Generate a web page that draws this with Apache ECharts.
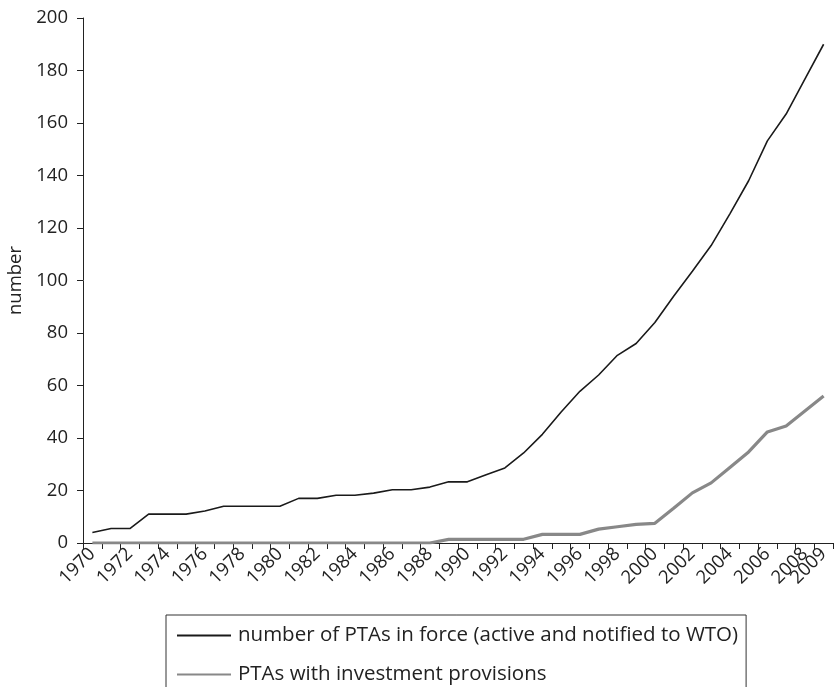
<!DOCTYPE html>
<html>
<head>
<meta charset="utf-8">
<script src="https://cdn.jsdelivr.net/npm/echarts@6/dist/echarts.min.js"></script>
<style>
html,body{margin:0;padding:0;background:#fff;}
#chart{width:834px;height:687px;}
</style>
</head>
<body>
<div id="chart"></div>
<script>
var years = [];
for (var y = 1970; y <= 2009; y++) years.push(String(y));

var ptasInForce = [4, 5.5, 5.5, 11, 11, 11, 12.2, 14, 14, 14, 14, 17, 17, 18.2, 18.2, 19, 20.3, 20.3, 21.3, 23.3,
  23.3, 26, 28.6, 34.3, 41.4, 49.9, 57.8, 64, 71.5, 76, 84, 94, 103.5, 113.3, 125.4, 138, 153.2, 163.4, 176.7, 190];
var ptasInvestment = [0, 0, 0, 0, 0, 0, 0, 0, 0, 0, 0, 0, 0, 0, 0, 0, 0, 0, 0, 1.4,
  1.4, 1.4, 1.4, 1.4, 3.3, 3.3, 3.3, 5.3, 6.2, 7.1, 7.5, 13.2, 19.1, 22.9, 28.8, 34.7, 42.3, 44.6, 50.3, 56];

var seriesNames = ['number of PTAs in force (active and notified to WTO)', 'PTAs with investment provisions'];
var yTicks = {min: 0, max: 200, interval: 20};

var FONT = 'Open Sans';
var chart = echarts.init(document.getElementById('chart'));
chart.setOption({
  animation: false,
  backgroundColor: '#fff',
  textStyle: {fontFamily: FONT},
  grid: {left: 83, right: 1, top: 18, bottom: 144, containLabel: false, outerBoundsMode: 'none'},
  legend: {
    orient: 'vertical',
    left: 166, top: 615, height: 300,
    data: seriesNames,
    itemWidth: 54, itemHeight: 20, itemGap: 18,
    padding: [10, 8, 40, 10],
    borderColor: '#333', borderWidth: 1,
    itemStyle: {opacity: 0},
    textStyle: {fontFamily: FONT, fontSize: 20.5, color: '#222', lineHeight: 20, padding: [0, 0, 0, 2]}
  },
  xAxis: {
    type: 'category',
    data: years,
    boundaryGap: true,
    axisLine: {lineStyle: {color: '#222', width: 1}},
    axisTick: {show: true, length: 6, interval: 0, lineStyle: {color: '#222'}},
    axisLabel: {
      rotate: 45, fontSize: 18.5, color: '#222', fontFamily: FONT, margin: 8,
      hideOverlap: false, interval: 0,
      formatter: function (v, i) { return (i % 2 === 0 || i === years.length - 1) ? v : ''; }
    },
    splitLine: {show: false}
  },
  yAxis: {
    type: 'value',
    min: yTicks.min, max: yTicks.max, interval: yTicks.interval,
    name: 'number', nameLocation: 'middle', nameGap: 57, nameRotate: 90,
    nameTextStyle: {fontSize: 18.5, color: '#222', fontFamily: FONT},
    axisLine: {show: true, lineStyle: {color: '#222', width: 1}},
    axisTick: {show: true, length: 6, lineStyle: {color: '#222'}},
    axisLabel: {fontSize: 18.5, color: '#222', fontFamily: FONT, margin: 15},
    splitLine: {show: false}
  },
  series: [
    {
      name: seriesNames[0], type: 'line', data: ptasInForce,
      symbol: 'none', lineStyle: {color: '#1a1a1a', width: 1.6}, itemStyle: {color: '#1a1a1a'}, z: 3
    },
    {
      name: seriesNames[1], type: 'line', data: ptasInvestment,
      symbol: 'none', lineStyle: {color: '#888888', width: 3.2}, itemStyle: {color: '#888888'}, z: 2
    }
  ]
});
</script>
</body>
</html>
